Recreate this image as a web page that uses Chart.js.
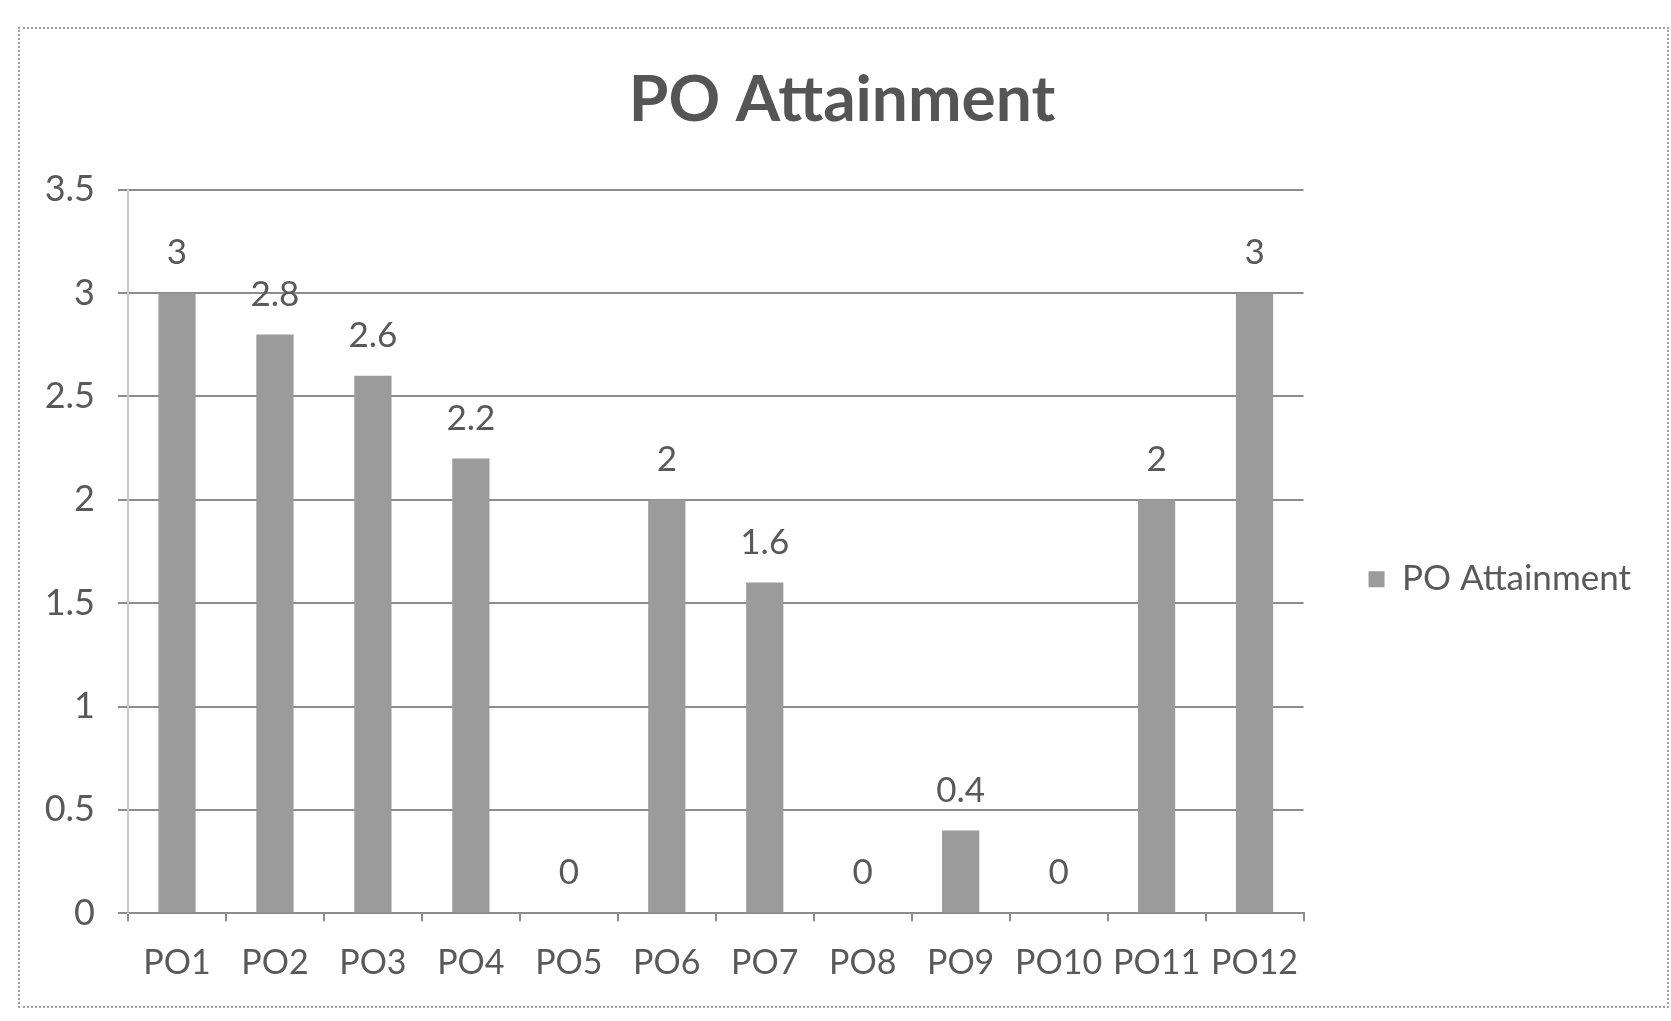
<!DOCTYPE html>
<html>
<head>
<meta charset="utf-8">
<script src="https://cdn.jsdelivr.net/npm/chart.js@4"></script>
<style>
  html, body { margin: 0; padding: 0; background: #fff; }
  #frame {
    position: absolute; left: 18px; top: 27px; width: 1651px; height: 981px;
    border: 2px dotted #a0a0a0; box-sizing: border-box;
  }
  #wrap { position: absolute; left: 0; top: 0; width: 1671px; height: 1021px; }
</style>
</head>
<body>
<div id="frame"></div>
<div id="wrap"><canvas id="mycanvas" width="1671" height="1021"></canvas></div>
<script>
// chart data
var categories = ['PO1', 'PO2', 'PO3', 'PO4', 'PO5', 'PO6', 'PO7', 'PO8', 'PO9', 'PO10', 'PO11', 'PO12'];
var attainment = [3, 2.8, 2.6, 2.2, 0, 2, 1.6, 0, 0.4, 0, 2, 3];
var yTicks = [0, 0.5, 1, 1.5, 2, 2.5, 3, 3.5];

var textColor = '#595959';
var gridColor = '#8c8c8c';

// value labels above each bar
var barValues = {
  id: 'barValues',
  afterDatasetsDraw: function(chart) {
    var ctx = chart.ctx;
    var meta = chart.getDatasetMeta(0);
    ctx.save();
    ctx.font = '35px Lato';
    ctx.fillStyle = textColor;
    ctx.textAlign = 'center';
    ctx.textBaseline = 'middle';
    meta.data.forEach(function(bar, i) {
      ctx.fillText(String(attainment[i]), bar.x, bar.y - 40);
    });
    ctx.restore();
  }
};

var ctx = document.getElementById('mycanvas').getContext('2d');
var chart = new Chart(ctx, {
  type: 'bar',
  data: {
    labels: categories,
    datasets: [{
      label: 'PO Attainment',
      data: attainment,
      backgroundColor: '#9b9b9b',
      borderWidth: 0,
      barPercentage: 0.38,
      categoryPercentage: 1
    }]
  },
  plugins: [barValues],
  options: {
    responsive: false,
    animation: false,
    devicePixelRatio: 1,
    layout: { padding: { top: 40, left: 43, right: 30, bottom: 17 } },
    plugins: {
      title: {
        display: true,
        text: 'PO Attainment',
        color: '#555555',
        font: { family: 'Lato', size: 64, weight: 'bold', lineHeight: 1.2 },
        padding: { top: 22, bottom: 51 }
      },
      legend: {
        position: 'right',
        title: { display: true, text: ' ', padding: { top: 0, bottom: 100 }, font: { size: 12 } },
        labels: {
          color: textColor,
          font: { family: 'Lato', size: 35 },
          boxWidth: 16,
          boxHeight: 16,
          padding: 65
        }
      },
      tooltip: { enabled: false }
    },
    scales: {
      x: {
        grid: { display: true, drawOnChartArea: false, drawTicks: true, tickLength: 8, color: gridColor, lineWidth: 2 },
        border: { display: true, color: gridColor, width: 2 },
        ticks: { color: textColor, font: { family: 'Lato', size: 34 }, padding: 21, maxRotation: 0, autoSkip: false }
      },
      y: {
        min: 0,
        max: 3.5,
        afterFit: function(scale) { scale.width = 85; },
        afterBuildTicks: function(scale) {
          scale.ticks = yTicks.map(function(v) { return { value: v }; });
        },
        grid: { color: gridColor, lineWidth: 2, tickLength: 10 },
        border: { display: true, color: '#c8c8c8', width: 2 },
        ticks: {
          color: textColor,
          font: { family: 'Lato', size: 36 },
          padding: 23,
          callback: function(value) { return String(value); }
        }
      }
    }
  }
});
</script>
</body>
</html>
